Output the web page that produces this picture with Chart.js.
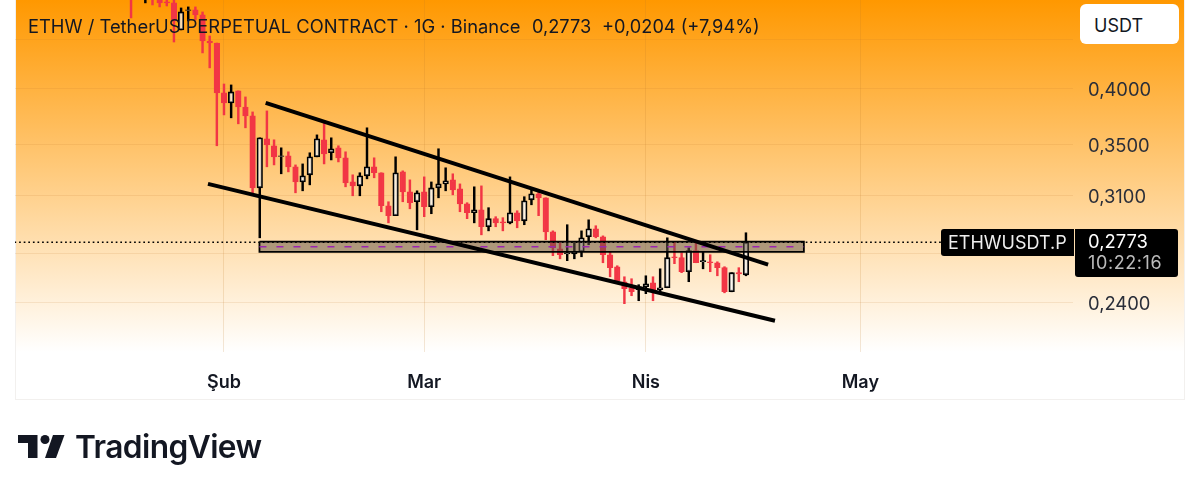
<!DOCTYPE html>
<html>
<head>
<meta charset="utf-8">
<title>ETHW / TetherUS</title>
<script src="https://cdn.jsdelivr.net/npm/chart.js@4"></script>
<style>
  html, body { margin: 0; padding: 0; background: #fff; overflow: hidden; }
  body { width: 1200px; height: 493px; position: relative; font-family: Inter, "Noto Sans", sans-serif; color: #131722; }
  #card { position: absolute; left: 15px; top: 0; width: 1170px; height: 400px; box-sizing: border-box;
    border: 1px solid #f2f0ee; border-top: 0; background: linear-gradient(#ff9800 0, #ffffff 352px, #ffffff 100%); }
  canvas { position: absolute; left: 0; top: 0; }
  .t { position: absolute; white-space: nowrap; font-size: 18px; line-height: 20px; }
  #usdt { position: absolute; left: 1080px; top: 4px; width: 99px; height: 40px; background: #fff; border-radius: 6px; }
  #sym { position: absolute; left: 941px; top: 229px; width: 133px; height: 27px; background: #000; border-radius: 3px 0 0 3px; }
  #val { position: absolute; left: 1075px; top: 229px; width: 103px; height: 48px; background: #000; border-radius: 0 3px 3px 3px; }
  #logo { position: absolute; left: 0; top: 425px; }
</style>
</head>
<body>
<div id="card"></div>
<canvas id="priceChart" width="1200" height="493"></canvas>

<div class="t" style="left:28px;top:16px;font-size:18.35px">ETHW / TetherUS PERPETUAL CONTRACT · 1G · Binance</div>
<div class="t" style="left:532px;top:16px;font-size:18.2px">0,2773</div>
<div class="t" style="left:602px;top:16px;font-size:18.2px">+0,0204 (+7,94%)</div>

<div id="usdt"></div>
<div class="t" style="left:1094px;top:16px">USDT</div>
<div id="sym"></div>
<div class="t" style="left:948px;top:233px;color:#eee">ETHWUSDT.P</div>
<div id="val"></div>
<div class="t" style="left:1088px;top:231px;color:#fff;font-size:18.4px">0,2773</div>
<div class="t" style="left:1088px;top:253px;color:#bbb;letter-spacing:.6px">10:22:16</div>

<svg id="logo" width="70" height="40" viewBox="0 0 70 40">
  <path d="M18 10h19.5v23h-9.5v-15h-10z" fill="#131722"/>
  <circle cx="45" cy="14.5" r="4.5" fill="#131722"/>
  <path d="M53 10h11.5l-8.5 23h-11z" fill="#131722"/>
</svg>
<div class="t" style="left:75px;top:428px;font-size:31.7px;line-height:38px;font-weight:600;letter-spacing:-.6px">TradingView</div>

<script>
// day 0 is 1 Feb, one candle per day
const firstDay = -13;
const opens = [
  .53, .535, .505, .515, .505, .4923, .4912, .4605, .4825, .4830, .4773, .4485, .4463, .3962, .3868, .3981, .3831, .3751,
  .3158, .3551, .3492, .3405, .3409, .3321, .3203, .3258, .3401, .3542, .3434, .3475, .3393, .3203, .3173, .3250,
  .3321, .3274, .3026, .2955, .3281, .3128, .3055, .3128, .3019, .3158, .3188, .3219, .3151, .3040, .2976, .2997,
  .2878, .2934, .2912, .2905, .2976, .2919, .3069, .3114, .3084, .2843, .2730, .2698, .2698, .2711, .2810, .2864,
  .2810, .2692, .2616, .2524, .2488, .2476, .2494, .2518, .2476, .2488, .2679, .2673, .2585, .2718, .2647, .2647,
  .2641, .2610, .2464, .2579, .2566
];
const highs = [
  .54, .545, .52, .525, .515, .505, .50, .4853, .4865, .4865, .4807, .4539, .4463, .4047, .4038, .3981, .3924, .3786,
  .3559, .3795, .3542, .3475, .3442, .3336, .3344, .3434, .3584, .3689, .3559, .3492, .3442, .3258, .3274, .3645,
  .3393, .3274, .3055, .3401, .3289, .3219, .3136, .3242, .3203, .3467, .3313, .3266, .3188, .3048, .3166, .3173,
  .3012, .2948, .2941, .3242, .2990, .3092, .3143, .3143, .3084, .2850, .2770, .2892, .2770, .2850, .2926, .2885,
  .2816, .2711, .2622, .2554, .2542, .2506, .2560, .2554, .2603, .2803, .2777, .2705, .2737, .2777, .2711, .2692,
  .2647, .2616, .2579, .2610, .2837
];
const lows = [
  .4739, .515, .4912, .4888, .4865, .4876, .4474, .4605, .4705, .4716, .4359, .4206, .3492, .3759, .3733, .3680, .3645, .3121,
  .2803, .3321, .3336, .3266, .3281, .3121, .3136, .3181, .3401, .3344, .3376, .3360, .3166, .3099, .3099, .3227,
  .3235, .2983, .2905, .2955, .3055, .3004, .2857, .2948, .2969, .3084, .3136, .3106, .2983, .2934, .2905, .2823,
  .2850, .2878, .2850, .2898, .2871, .2892, .3033, .2955, .2790, .2686, .2666, .2654, .2666, .2679, .2757, .2803,
  .2641, .2554, .2524, .2395, .2441, .2412, .2453, .2412, .2464, .2488, .2635, .2579, .2524, .2641, .2603, .2585,
  .2560, .2458, .2464, .2524, .2560
];
const closes = [
  .51, .525, .515, .505, .4912, .4912, .4705, .4807, .4830, .4773, .4485, .4463, .3962, .3868, .3971, .3831, .3751, .3158,
  .3559, .3500, .3401, .3409, .3321, .3203, .3250, .3401, .3551, .3425, .3467, .3393, .3196, .3173, .3250, .3321,
  .3274, .3026, .2955, .3274, .3128, .3048, .3121, .3019, .3158, .3188, .3211, .3143, .3040, .2976, .2997, .2878,
  .2934, .2905, .2905, .2976, .2919, .3062, .3114, .3084, .2843, .2737, .2692, .2705, .2711, .2803, .2864, .2810,
  .2692, .2610, .2530, .2482, .2464, .2494, .2512, .2464, .2488, .2673, .2673, .2585, .2718, .2641, .2654, .2641,
  .2610, .2464, .2579, .2572, .2773
];

const yTicks = [.45, .40, .35, .31, .27, .24];
const hiddenYLabels = [.45, .27];
const monthDays = [0, 28, 59, 89];
const monthNames = ['Şub', 'Mar', 'Nis', 'May'];

const lastPrice = .2773;
const upperTrend = [[5.83, .3869], [76.1, .2629]];
const lowerTrend = [[-2.24, .3188], [77.06, .2299]];
const zoneDays = [4.96, 81.1];
const zonePrices = [.2777, .2711];
const zoneMid = .2744;

const UP = '#000000', DOWN = '#f23645';
const days = opens.map((_, i) => firstDay + i);
const isUp = i => closes[i] >= opens[i];
const pts = pairs => pairs.map(p => ({ x: p[0], y: p[1] }));

const ctx = document.getElementById('priceChart').getContext('2d');
new Chart(ctx, {
  type: 'bar',
  data: {
    datasets: [
      // trend lines
      { type: 'line', data: pts(upperTrend), borderColor: '#000', borderWidth: 4, pointRadius: 0, order: 0 },
      { type: 'line', data: pts(lowerTrend), borderColor: '#000', borderWidth: 4, pointRadius: 0, order: 0 },
      // last price dotted line
      { type: 'line', data: pts([[-29.3, lastPrice], [100.3, lastPrice]]), borderColor: '#000', borderWidth: 1.6, borderDash: [1.7, 2.9], pointRadius: 0, order: 1 },
      // zone
      { type: 'line', data: pts([[zoneDays[0], zoneMid], [zoneDays[1], zoneMid]]), borderColor: '#9c27b0', borderWidth: 1.5, borderDash: [7, 10], pointRadius: 0, order: 1 },
      { type: 'line', data: pts([[zoneDays[0], zonePrices[0]], [zoneDays[1], zonePrices[0]], [zoneDays[1], zonePrices[1]], [zoneDays[0], zonePrices[1]], [zoneDays[0], zonePrices[0]]]),
        borderColor: '#000', borderWidth: 1.8, pointRadius: 0, order: 1 },
      { type: 'line', data: pts([[zoneDays[0], zonePrices[0]], [zoneDays[1], zonePrices[0]]]), borderWidth: 0, pointRadius: 0, fill: '+1', backgroundColor: 'rgba(100,85,70,.52)', order: 2 },
      { type: 'line', data: pts([[zoneDays[0], zonePrices[1]], [zoneDays[1], zonePrices[1]]]), borderWidth: 0, pointRadius: 0, order: 2 },
      // candles
      {
        data: days.map((d, i) => ({ x: d, y: [opens[i], closes[i]] })),
        backgroundColor: days.map((d, i) => isUp(i) ? 'rgba(255,255,255,.65)' : DOWN),
        borderColor: days.map((d, i) => isUp(i) ? UP : DOWN),
        borderWidth: 1.6, borderSkipped: false, barThickness: 5.6, order: 3
      },
      {
        data: days.map((d, i) => ({ x: d, y: [Math.max(opens[i], closes[i]), highs[i]] })),
        backgroundColor: days.map((d, i) => isUp(i) ? UP : DOWN),
        barThickness: 1.8, order: 4
      },
      {
        data: days.map((d, i) => ({ x: d, y: [lows[i], Math.min(opens[i], closes[i])] })),
        backgroundColor: days.map((d, i) => isUp(i) ? UP : DOWN),
        barThickness: 1.8, order: 4
      }
    ]
  },
  options: {
    responsive: false,
    animation: false,
    devicePixelRatio: 1,
    layout: { padding: { left: 15, right: 15, top: 0, bottom: 93 } },
    plugins: { legend: { display: false }, tooltip: { enabled: false } },
    datasets: { bar: { grouped: false }, line: { tension: 0 } },
    scales: {
      x: {
        type: 'linear',
        min: -29.23,
        max: 118.74,
        offset: false,
        grid: { offset: false, color: 'rgba(190,120,40,.18)', drawTicks: false },
        border: { display: false },
        afterBuildTicks: s => { s.ticks = monthDays.map(v => ({ value: v })); },
        afterFit: s => { s.height = 48; s.paddingLeft = 0; s.paddingRight = 0; },
        ticks: {
          autoSkip: false, maxRotation: 0, padding: 20,
          color: '#131722', font: { family: 'Inter', size: 18, weight: '600' },
          callback: v => monthNames[monthDays.indexOf(v)]
        }
      },
      y: {
        type: 'logarithmic',
        position: 'right',
        bounds: 'data',   // otherwise the log scale rounds min to 0.21
        min: .2134,
        max: .4946,
        grid: { color: 'rgba(190,120,40,.14)', drawTicks: false },
        border: { display: false },
        afterBuildTicks: s => { s.ticks = yTicks.map(v => ({ value: v })); },
        afterFit: s => { s.width = 112; s.paddingTop = 0; s.paddingBottom = 0; },
        ticks: {
          autoSkip: false, padding: 15, align: 'center', labelOffset: 2,
          color: '#2a2e39', font: { family: 'Inter', size: 18.4 },
          callback: v => hiddenYLabels.includes(v) ? '' : v.toFixed(4).replace('.', ',')
        }
      }
    }
  }
});
</script>
</body>
</html>
